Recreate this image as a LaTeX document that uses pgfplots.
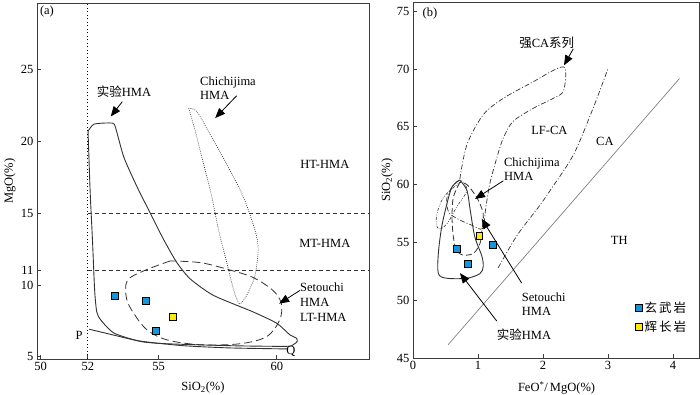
\documentclass[border=0pt]{standalone}
\usepackage{fontspec}
\setmainfont{Liberation Serif}
\newfontfamily\cjk{Noto Sans CJK SC}
\usepackage{pgfplots}
\pgfplotsset{compat=1.18}
\usetikzlibrary{arrows.meta}
\definecolor{ptblue}{RGB}{20,150,215}
\definecolor{ptyellow}{RGB}{255,235,0}
\definecolor{axgray}{RGB}{60,60,60}
\definecolor{lngray}{RGB}{50,50,50}
\tikzset{arr/.style={-{Triangle[length=10pt,width=8pt]}, line width=0.8pt, black}}
\begin{document}
\begin{tikzpicture}
\useasboundingbox (0pt,0pt) rectangle (700pt,395pt);
\pgfplotsset{
 every axis/.append style={
  scale only axis,
  font=\fontsize{12.5}{14}\selectfont,
  axis line style={axgray, line width=0.8pt},
  tick style={axgray, line width=0.7pt},
  major tick length=4pt,
  tick pos=left,
  clip=false,
  /pgf/number format/assume math mode=true,
 },
}
% ---------------- panel (a)
\begin{axis}[at={(37pt,36pt)}, anchor=south west, width=332pt, height=356pt,
  xmin=49.85, xmax=63.9, ymin=4.85, ymax=29.6,
  xtick={50,52,55,60}, ytick={5,10,11,15,20,25},
  xlabel={SiO\textsubscript{2}(\%)}, ylabel={MgO(\%)},
  x label style={at={(axis description cs:0.5,-0.0806)}, anchor=center},
  y label style={at={(axis description cs:-0.0813,0.5)}, anchor=center},
]
\addplot[forget plot, black, line width=1pt, dash pattern=on 1pt off 2.5pt] coordinates {(52,4.85) (52,29.6)};
\addplot[forget plot, lngray, line width=0.8pt, dash pattern=on 4pt off 3pt] coordinates {(52,15) (63.9,15)};
\addplot[forget plot, lngray, line width=0.8pt, dash pattern=on 4pt off 3pt] coordinates {(52,11) (63.9,11)};
% experimental HMA
\addplot[forget plot, lngray, line width=0.9pt, smooth, tension=0.4] coordinates {
(52.01,20.68) (52.27,21.18) (53.04,21.25) (53.18,20.9) (53.53,18.86) (54.09,16.8) (54.65,14.97)
(55.21,13.15) (55.77,11.55) (56.34,10.41) (57.32,9.27) (59.0,8.12) (60.0,7.33) (60.55,6.53)
(60.83,6.30) (60.86,6.07) (60.69,5.84) (60.40,5.73) (58.16,5.77) (55.35,5.91) (54.23,6.07)
(53.11,6.65) (52.55,7.56) (52.38,8.12) (52.29,9.61) (52.20,13.03) (52.1,16.46) (52.01,20.68)};
% P-Q line
\addplot[forget plot, lngray, line width=0.9pt, smooth, tension=0.4] coordinates {
(52.06,6.92) (53.0,6.55) (54.2,6.1) (56,5.78) (58,5.62) (60.45,5.55)};
% Chichijima
\addplot[forget plot, lngray, line width=0.7pt, dash pattern=on 0.8pt off 1.3pt, smooth, tension=0.5] coordinates {
(56.27,22.28) (56.55,20.68) (56.9,18.4) (57.25,16.12) (57.53,13.84) (57.88,11.55) (58.16,9.73)
(58.41,8.7) (58.72,9.27) (59.07,10.64) (59.21,12.47) (59.07,13.84) (58.58,16.12) (57.88,18.4)
(57.18,20.45) (56.62,22.05) (56.27,22.28)};
% Setouchi
\addplot[forget plot, lngray, line width=0.8pt, dash pattern=on 8pt off 4pt, smooth, tension=0.55] coordinates {
(55.49,11.67) (54.37,10.98) (53.67,10.3) (53.64,9.04) (53.95,8.01) (54.51,6.87) (55.35,6.18)
(56.76,5.84) (58.44,5.91) (59.57,6.41) (60.12,7.56) (60.19,8.70) (59.84,9.61) (58.99,10.52)
(57.88,11.1) (56.76,11.55) (55.49,11.67)};
% samples
\addplot[only marks, mark=square*, mark size=3.4pt, mark options={fill=ptblue, draw=black, line width=0.7pt}] coordinates {(53.15,9.22) (54.47,8.92) (54.88,6.82)};
\addplot[only marks, mark=square*, mark size=3.4pt, mark options={fill=ptyellow, draw=black, line width=0.7pt}] coordinates {(55.59,7.78)};
% arrows
\draw[arr] (axis cs:53.46,22.74) -- (axis cs:52.97,21.71);
\draw[arr] (axis cs:58.30,23.15) -- (axis cs:57.39,21.6);
\draw[arr] (axis cs:60.97,9.61) -- (axis cs:60.10,8.70);
% labels
\node at (axis description cs:0.03,0.975) {(a)};
\node at (axis description cs:0.262,0.75) {{\cjk 实验}HMA};
\node[anchor=west, align=left, inner sep=0pt] at (axis description cs:0.491,0.761) {Chichijima\\HMA};
\node at (axis description cs:0.867,0.548) {HT-HMA};
\node at (axis description cs:0.867,0.325) {MT-HMA};
\node[anchor=west, align=left, inner sep=0pt, font=\fontsize{12.5}{15}\selectfont] at (axis description cs:0.792,0.161) {Setouchi\\HMA\\LT-HMA};
\node at (axis description cs:0.1265,0.0654) {P};
\node at (axis description cs:0.765,0.0225) {Q};
\end{axis}
% ---------------- panel (b)
\begin{axis}[at={(413pt,37pt)}, anchor=south west, width=286pt, height=356pt,
  xmin=0, xmax=4.4, ymin=45, ymax=75.8,
  xtick={0,1,2,3,4}, ytick={45,50,55,60,65,70,75},
  xlabel={FeO\textsuperscript{*}/\,MgO(\%)}, ylabel={SiO\textsubscript{2}(\%)},
  x label style={at={(axis description cs:0.502,-0.0834)}, anchor=center},
  y label style={at={(axis description cs:-0.0909,0.5)}, anchor=center},
  legend style={at={(axis description cs:0.778,0.163)}, anchor=north west, draw=none, fill=none,
    inner sep=0pt, row sep=3pt, font=\fontsize{12.5}{14}\selectfont},
  legend cell align=left,
]
\addplot[forget plot, gray, line width=0.7pt] coordinates {(0.54,46.15) (4.10,69.18)};
\addplot[forget plot, lngray, line width=0.7pt, dash pattern=on 5pt off 2pt on 1pt off 2pt, smooth] coordinates {
(1.31,52.8) (1.60,55.6) (1.95,58.2) (2.11,59.5) (2.47,62.6) (2.77,66.6) (3.0,70.03)};
% strong CA series
\addplot[forget plot, lngray, line width=0.7pt, dash pattern=on 5pt off 2pt on 1pt off 2pt, smooth, tension=0.5] coordinates {
(0.72,60.47) (0.83,63.47) (1.08,66.04) (1.39,67.47) (1.85,68.9) (2.16,69.89) (2.32,70.18) (2.35,69.46)
(2.31,68.04) (2.16,67.47) (1.85,66.6) (1.54,65.47) (1.39,64.04) (1.29,62.33) (1.18,60.04) (1.12,58.0)
(1.07,56.2) (0.9,56.5) (0.7,57.0) (0.55,57.6) (0.52,58.8) (0.6,59.8) (0.72,60.47)};
% Chichijima
\addplot[forget plot, lngray, line width=0.6pt, dash pattern=on 3pt off 1.5pt on 0.8pt off 1.5pt on 0.8pt off 1.5pt, smooth, tension=0.6] coordinates {
(0.75,60.33) (0.47,58.9) (0.36,57.2) (0.39,56.2) (0.52,56.6) (0.67,58.05) (0.83,59.5) (0.75,60.33)};
% Setouchi
\addplot[forget plot, lngray, line width=0.8pt, dash pattern=on 6pt off 3pt, smooth, tension=0.5] coordinates {
(0.72,60.2) (0.62,58.9) (0.60,57.2) (0.62,55.5) (0.67,54.3) (0.77,53.9) (0.93,54.05) (1.03,54.9)
(1.06,56.05) (1.08,57.5) (0.98,58.9) (0.83,60.0) (0.72,60.2)};
% experimental HMA
\addplot[forget plot, lngray, line width=0.9pt, smooth, tension=0.5] coordinates {
(0.72,60.4) (0.83,59.5) (0.88,57.8) (0.95,55.5) (1.06,53.8) (1.08,52.9) (1.03,52.3) (0.83,51.9)
(0.52,51.9) (0.39,52.3) (0.39,54.05) (0.44,56.3) (0.52,58.3) (0.60,59.8) (0.72,60.4)};
% samples
\addplot[only marks, mark=square*, mark size=3.4pt, mark options={fill=ptblue, draw=black, line width=0.7pt}] coordinates {(0.67,54.47) (0.84,53.14) (1.23,54.77)};
\addlegendentry{{\cjk 玄\,武\,岩}}
\addplot[only marks, mark=square*, mark size=3.4pt, mark options={fill=ptyellow, draw=black, line width=0.7pt}] coordinates {(1.02,55.59)};
\addlegendentry{{\cjk 辉\,长\,岩}}
% arrows
\draw[arr] (axis cs:2.466,71.75) -- (axis cs:2.323,70.32);
\draw[arr] (axis cs:1.389,60.33) -- (axis cs:0.954,58.76);
\draw[arr] (axis cs:1.672,51.48) -- (axis cs:1.057,57.05);
\draw[arr] (axis cs:1.288,48.2) -- (axis cs:0.723,52.34);
% labels
\node at (axis description cs:0.0594,0.969) {(b)};
\node at (axis description cs:0.4675,0.886) {{\cjk 强}CA{\cjk 系列}};
\node at (axis description cs:0.4766,0.640) {LF-CA};
\node at (axis description cs:0.671,0.6076) {CA};
\node[anchor=west, align=left, inner sep=0pt] at (axis description cs:0.318,0.531) {Chichijima\\HMA};
\node[anchor=west, align=left, inner sep=0pt] at (axis description cs:0.380,0.1517) {Setouchi\\HMA};
\node at (axis description cs:0.388,0.0666) {{\cjk 实验}HMA};
\node at (axis description cs:0.7213,0.3315) {TH};
\end{axis}
\end{tikzpicture}
\end{document}
